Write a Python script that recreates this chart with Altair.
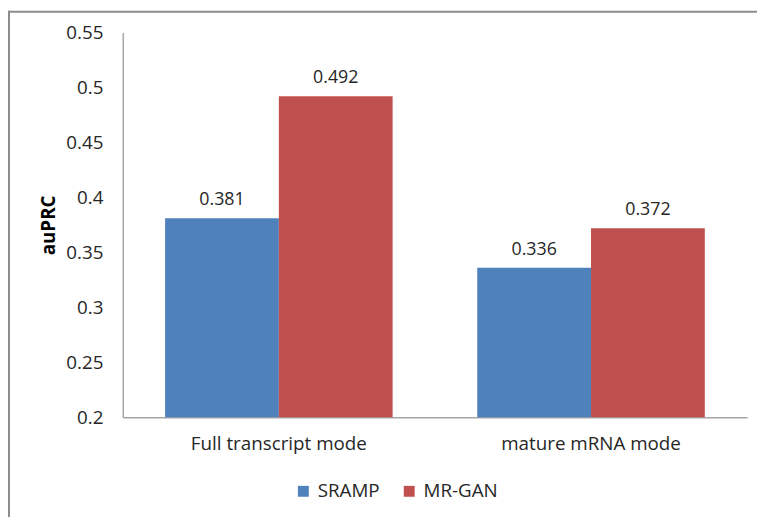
import altair as alt
import pandas as pd

categories = ["Full transcript mode", "mature mRNA mode"]
series = ["SRAMP", "MR-GAN"]
sramp_values = [0.381, 0.336]
mrgan_values = [0.492, 0.372]
y_ticks = [0.2, 0.25, 0.3, 0.35, 0.4, 0.45, 0.5, 0.55]
colors = ["#4F81BD", "#C0504D"]

rows = []
for i, c in enumerate(categories):
    rows.append({"category": c, "series": series[0], "value": sramp_values[i]})
    rows.append({"category": c, "series": series[1], "value": mrgan_values[i]})
df = pd.DataFrame(rows)

FONT = "Open Sans"
TXT = "#262626"

base = alt.Chart(df).encode(
    x=alt.X("category:N", sort=categories, title=None,
            scale=alt.Scale(paddingInner=0, paddingOuter=0),
            axis=alt.Axis(labelAngle=0, ticks=False, domainColor="#a6a6a6", domainWidth=1.5,
                          labelFont=FONT, labelFontSize=19, labelColor=TXT, labelPadding=17,
                          labelLimit=400)),
    xOffset=alt.XOffset("series:N", sort=series,
                        scale=alt.Scale(paddingInner=0, paddingOuter=0.372)),
)

bars = base.mark_bar().encode(
    y=alt.Y("value:Q", scale=alt.Scale(domain=[0.2, 0.55], zero=False, clamp=True, nice=False),
            title="auPRC",
            axis=alt.Axis(values=y_ticks, format=".2~f", ticks=False, grid=False,
                          domainColor="#a6a6a6", domainWidth=1.5,
                          labelFont=FONT, labelFontSize=19, labelColor=TXT, labelPadding=20,
                          titleFont=FONT, titleFontSize=19, titleFontWeight="bold",
                          titleColor="#000000", titlePadding=7)),
    y2=alt.datum(0.2),
    color=alt.Color("series:N", sort=series,
                    scale=alt.Scale(domain=series, range=colors),
                    legend=alt.Legend(title=None, orient="none", direction="horizontal",
                                      legendX=173, legendY=454,
                                      symbolType="square", symbolSize=121,
                                      symbolStrokeWidth=0, labelFont=FONT,
                                      labelFontSize=19, labelColor=TXT,
                                      labelOffset=5, columnPadding=20)),
)

labels = base.mark_text(baseline="alphabetic", dy=-13, font=FONT, fontSize=18, color=TXT).encode(
    y=alt.Y("value:Q"),
    text=alt.Text("value:Q", format=".3f"),
)

border_top = alt.Chart(pd.DataFrame({"a": [0]})).mark_rule(color="#8c8c8c", strokeWidth=2).encode(
    x=alt.value(-116), x2=alt.value(700), y=alt.value(-21), y2=alt.value(-21)
)
border_left = alt.Chart(pd.DataFrame({"a": [0]})).mark_rule(color="#8c8c8c", strokeWidth=2).encode(
    x=alt.value(-115), x2=alt.value(-115), y=alt.value(-22), y2=alt.value(500)
)

chart = alt.layer(bars, labels, border_top, border_left).properties(
    width=631, height=389,
    autosize=alt.AutoSizeParams(type="none"),
    padding={"left": 116, "top": 22, "right": 10, "bottom": 98},
).configure_view(stroke=None)

chart.save("out.html", embed_options={"renderer": "svg", "actions": False})
